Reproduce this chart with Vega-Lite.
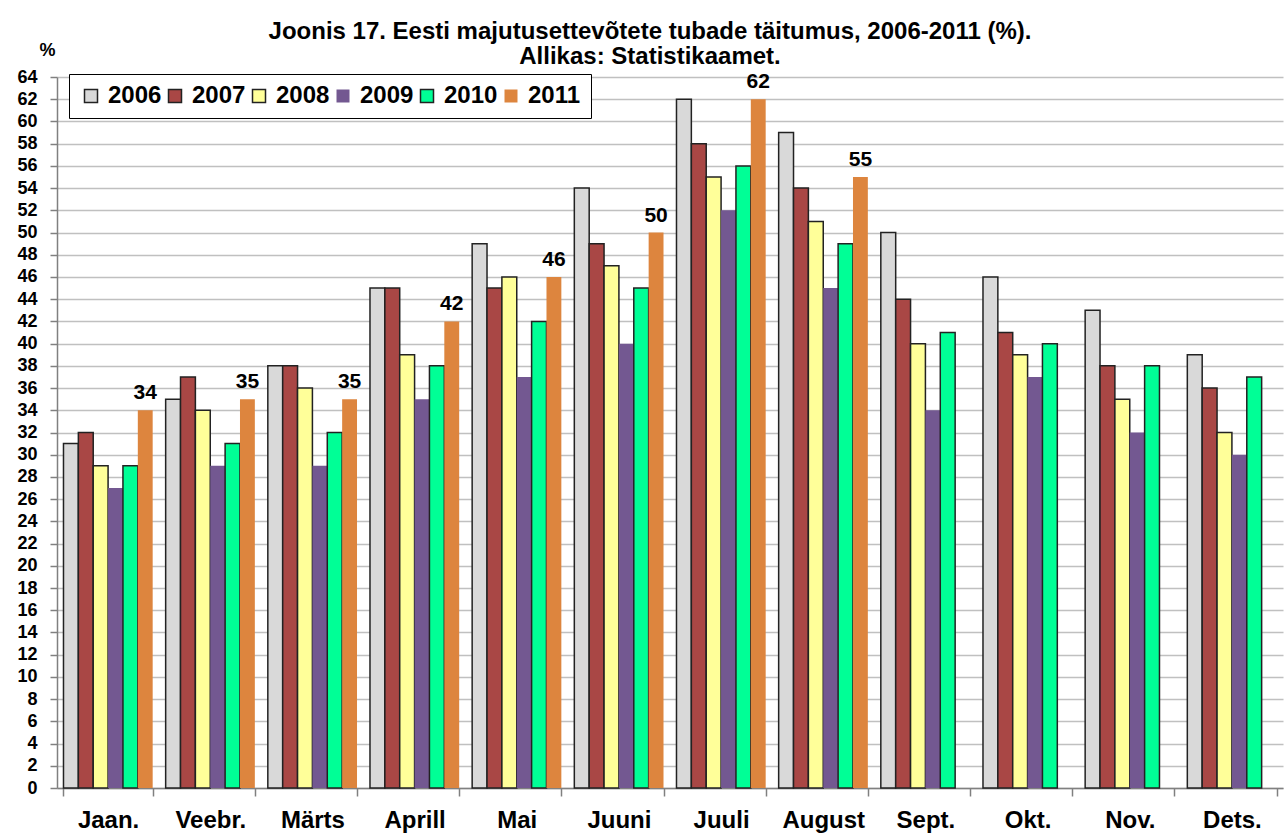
{
  "$schema": "https://vega.github.io/schema/vega-lite/v6.json",
  "width": 1226,
  "height": 711,
  "autosize": {"type": "none"},
  "padding": {"left": 57, "top": 77, "right": 3, "bottom": 51},
  "background": "white",
  "config": {
    "font": "Liberation Sans",
    "view": {"stroke": null}
  },
  "title": {
    "text": ["Joonis 17. Eesti majutusettevõtete tubade täitumus, 2006-2011 (%).", "Allikas: Statistikaamet."],
    "font": "Liberation Sans Narrow, Liberation Sans",
    "fontSize": 24,
    "fontWeight": "bold",
    "anchor": "middle",
    "frame": "group",
    "dx": -20,
    "dy": 38,
    "lineHeight": 25,
    "offset": 10,
    "color": "black"
  },
  "data": {
    "values": [
      {"month": "Jaan.", "year": "2006", "value": 31},
      {"month": "Jaan.", "year": "2007", "value": 32},
      {"month": "Jaan.", "year": "2008", "value": 29},
      {"month": "Jaan.", "year": "2009", "value": 27},
      {"month": "Jaan.", "year": "2010", "value": 29},
      {"month": "Jaan.", "year": "2011", "value": 34},
      {"month": "Veebr.", "year": "2006", "value": 35},
      {"month": "Veebr.", "year": "2007", "value": 37},
      {"month": "Veebr.", "year": "2008", "value": 34},
      {"month": "Veebr.", "year": "2009", "value": 29},
      {"month": "Veebr.", "year": "2010", "value": 31},
      {"month": "Veebr.", "year": "2011", "value": 35},
      {"month": "Märts", "year": "2006", "value": 38},
      {"month": "Märts", "year": "2007", "value": 38},
      {"month": "Märts", "year": "2008", "value": 36},
      {"month": "Märts", "year": "2009", "value": 29},
      {"month": "Märts", "year": "2010", "value": 32},
      {"month": "Märts", "year": "2011", "value": 35},
      {"month": "Aprill", "year": "2006", "value": 45},
      {"month": "Aprill", "year": "2007", "value": 45},
      {"month": "Aprill", "year": "2008", "value": 39},
      {"month": "Aprill", "year": "2009", "value": 35},
      {"month": "Aprill", "year": "2010", "value": 38},
      {"month": "Aprill", "year": "2011", "value": 42},
      {"month": "Mai", "year": "2006", "value": 49},
      {"month": "Mai", "year": "2007", "value": 45},
      {"month": "Mai", "year": "2008", "value": 46},
      {"month": "Mai", "year": "2009", "value": 37},
      {"month": "Mai", "year": "2010", "value": 42},
      {"month": "Mai", "year": "2011", "value": 46},
      {"month": "Juuni", "year": "2006", "value": 54},
      {"month": "Juuni", "year": "2007", "value": 49},
      {"month": "Juuni", "year": "2008", "value": 47},
      {"month": "Juuni", "year": "2009", "value": 40},
      {"month": "Juuni", "year": "2010", "value": 45},
      {"month": "Juuni", "year": "2011", "value": 50},
      {"month": "Juuli", "year": "2006", "value": 62},
      {"month": "Juuli", "year": "2007", "value": 58},
      {"month": "Juuli", "year": "2008", "value": 55},
      {"month": "Juuli", "year": "2009", "value": 52},
      {"month": "Juuli", "year": "2010", "value": 56},
      {"month": "Juuli", "year": "2011", "value": 62},
      {"month": "August", "year": "2006", "value": 59},
      {"month": "August", "year": "2007", "value": 54},
      {"month": "August", "year": "2008", "value": 51},
      {"month": "August", "year": "2009", "value": 45},
      {"month": "August", "year": "2010", "value": 49},
      {"month": "August", "year": "2011", "value": 55},
      {"month": "Sept.", "year": "2006", "value": 50},
      {"month": "Sept.", "year": "2007", "value": 44},
      {"month": "Sept.", "year": "2008", "value": 40},
      {"month": "Sept.", "year": "2009", "value": 34},
      {"month": "Sept.", "year": "2010", "value": 41},
      {"month": "Okt.", "year": "2006", "value": 46},
      {"month": "Okt.", "year": "2007", "value": 41},
      {"month": "Okt.", "year": "2008", "value": 39},
      {"month": "Okt.", "year": "2009", "value": 37},
      {"month": "Okt.", "year": "2010", "value": 40},
      {"month": "Nov.", "year": "2006", "value": 43},
      {"month": "Nov.", "year": "2007", "value": 38},
      {"month": "Nov.", "year": "2008", "value": 35},
      {"month": "Nov.", "year": "2009", "value": 32},
      {"month": "Nov.", "year": "2010", "value": 38},
      {"month": "Dets.", "year": "2006", "value": 39},
      {"month": "Dets.", "year": "2007", "value": 36},
      {"month": "Dets.", "year": "2008", "value": 32},
      {"month": "Dets.", "year": "2009", "value": 30},
      {"month": "Dets.", "year": "2010", "value": 37}
    ]
  },
  "encoding": {
    "x": {
      "field": "month",
      "type": "nominal",
      "sort": ["Jaan.", "Veebr.", "Märts", "Aprill", "Mai", "Juuni", "Juuli", "August", "Sept.", "Okt.", "Nov.", "Dets."],
      "scale": {"paddingInner": 0.127, "paddingOuter": 0.0635},
      "axis": {
        "title": null,
        "labelAngle": 0,
        "labelFont": "Liberation Sans",
        "labelFontSize": 24,
        "labelFontWeight": "bold",
        "labelColor": "black",
        "labelPadding": 12,
        "tickBand": "extent",
        "tickSize": 8,
        "tickColor": "#808080",
        "tickWidth": 1.5,
        "domainColor": "#808080",
        "domainWidth": 1.5,
        "grid": false
      }
    },
    "xOffset": {"field": "year", "type": "nominal", "scale": {"paddingInner": 0, "paddingOuter": 0}},
    "y": {
      "field": "value",
      "type": "quantitative",
      "scale": {"domain": [0, 64], "nice": false},
      "axis": {
        "title": "%",
        "titleAngle": 0,
        "titleX": -10,
        "titleY": -27,
        "titleAlign": "center",
        "titleBaseline": "middle",
        "titleFont": "Liberation Sans",
        "titleFontSize": 18,
        "titleFontWeight": "bold",
        "titleColor": "black",
        "values": [0, 2, 4, 6, 8, 10, 12, 14, 16, 18, 20, 22, 24, 26, 28, 30, 32, 34, 36, 38, 40, 42, 44, 46, 48, 50, 52, 54, 56, 58, 60, 62, 64],
        "labelFont": "Liberation Sans",
        "labelFontSize": 18,
        "labelFontWeight": "bold",
        "labelColor": "black",
        "labelPadding": 13,
        "tickSize": 7,
        "tickColor": "#808080",
        "tickWidth": 1.5,
        "domainColor": "#808080",
        "domainWidth": 1.5,
        "gridColor": "#C0C0C0",
        "gridWidth": 1.5
      }
    }
  },
  "layer": [
    {
      "mark": {"type": "bar", "strokeWidth": 1.5},
      "encoding": {
        "fill": {
          "field": "year",
          "type": "nominal",
          "scale": {"range": ["#D9D9D9", "#A94745", "#FFFF99", "#735891", "#00FF96", "#DD853E"]},
          "legend": {
            "title": null,
            "orient": "none",
            "legendX": 12,
            "legendY": -3,
            "direction": "horizontal",
            "columns": 6,
            "labelFont": "Liberation Sans",
            "labelFontSize": 24,
            "labelFontWeight": "bold",
            "labelColor": "black",
            "labelOffset": 5,
            "symbolType": "square",
            "symbolSize": 169,
            "symbolStrokeWidth": 1.5,
            "columnPadding": 1,
            "strokeColor": "black",
            "padding": 10,
            "fillColor": "white"
          }
        },
        "stroke": {
          "field": "year",
          "type": "nominal",
          "scale": {"range": ["#222222", "#222222", "#222222", "transparent", "#222222", "transparent"]},
          "legend": null
        }
      }
    },
    {
      "transform": [{"filter": "datum.year === '2011'"}],
      "mark": {"type": "text", "baseline": "bottom", "dy": -7, "fontSize": 21, "fontWeight": "bold", "font": "Liberation Sans", "color": "black"},
      "encoding": {
        "text": {"field": "value", "type": "quantitative"}
      }
    }
  ]
}
